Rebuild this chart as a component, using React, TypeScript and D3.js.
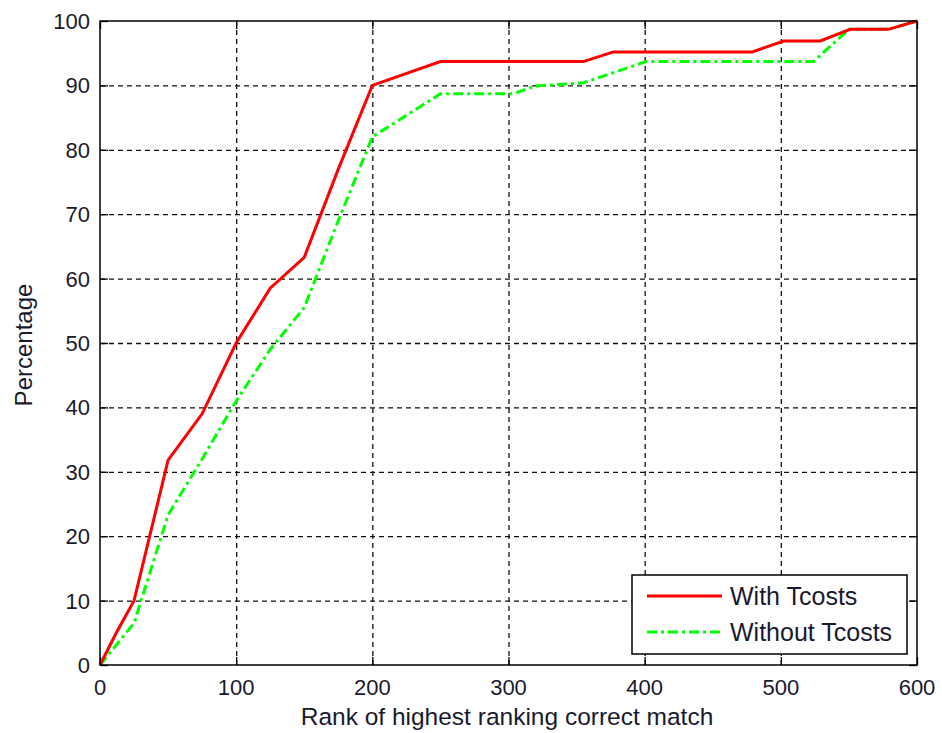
import { useEffect, useRef } from 'react';
import * as d3 from 'd3';

const rankWith = [0, 12, 25, 50, 75, 100, 125, 150, 175, 200, 250, 300, 355, 377, 479, 502, 529, 551, 579, 600];
const pctWith = [0, 5, 10, 31.8, 39, 50, 58.5, 63.3, 77, 90, 93.7, 93.7, 93.7, 95.2, 95.2, 96.9, 96.9, 98.7, 98.7, 100];

const rankWithout = [0, 25, 50, 75, 100, 125, 150, 175, 200, 250, 303, 320, 355, 401, 524, 550, 579, 600];
const pctWithout = [0, 6.5, 23.3, 32, 41, 49, 55.5, 69, 82, 88.7, 88.7, 89.9, 90.4, 93.7, 93.7, 98.7, 98.7, 100];

const xTicks = [0, 100, 200, 300, 400, 500, 600];
const yTicks = [0, 10, 20, 30, 40, 50, 60, 70, 80, 90, 100];
const seriesNames = ['With Tcosts', 'Without Tcosts'];

export default function App() {
  const ref = useRef<SVGSVGElement>(null);

  useEffect(() => {
    const svg = d3.select(ref.current);
    svg.selectAll('*').remove();

    const left = 100, right = 917, top = 21, bottom = 665;
    const font = '"Liberation Sans", Arial, sans-serif';
    const textColor = '#1a1a2e';

    const x = d3.scaleLinear().domain([0, 600]).range([left, right]);
    const y = d3.scaleLinear().domain([0, 100]).range([bottom, top]);

    svg.append('rect').attr('width', 942).attr('height', 733).attr('fill', '#fff');

    // grid
    const grid = svg.append('g').attr('stroke', '#111').attr('stroke-width', 1.3).attr('stroke-dasharray', '5,4');
    grid.selectAll('.gx')
      .data(xTicks.slice(1, -1))
      .enter()
      .append('line')
      .attr('x1', (d) => x(d) + 0.5)
      .attr('x2', (d) => x(d) + 0.5)
      .attr('y1', top)
      .attr('y2', bottom);
    grid.selectAll('.gy')
      .data(yTicks.slice(1, -1))
      .enter()
      .append('line')
      .attr('y1', (d) => y(d) + 0.5)
      .attr('y2', (d) => y(d) + 0.5)
      .attr('x1', left)
      .attr('x2', right);

    // inward ticks on all sides
    const tl = 8;
    const ticks = svg.append('g').attr('stroke', '#000').attr('stroke-width', 1.3);
    xTicks.forEach((t) => {
      const px = x(t) + 0.5;
      ticks.append('line').attr('x1', px).attr('x2', px).attr('y1', bottom).attr('y2', bottom - tl);
      ticks.append('line').attr('x1', px).attr('x2', px).attr('y1', top).attr('y2', top + tl);
    });
    yTicks.forEach((t) => {
      const py = y(t) + 0.5;
      ticks.append('line').attr('x1', left).attr('x2', left + tl).attr('y1', py).attr('y2', py);
      ticks.append('line').attr('x1', right).attr('x2', right - tl).attr('y1', py).attr('y2', py);
    });

    // lines
    const line = d3.line<[number, number]>().x((d) => x(d[0])).y((d) => y(d[1]));
    const without = rankWithout.map((r, i) => [r, pctWithout[i]] as [number, number]);
    const withT = rankWith.map((r, i) => [r, pctWith[i]] as [number, number]);

    svg.append('path')
      .attr('d', line(without))
      .attr('fill', 'none')
      .attr('stroke', '#00ff00')
      .attr('stroke-width', 3)
      .attr('stroke-dasharray', '10,4,3,4');
    svg.append('path')
      .attr('d', line(withT))
      .attr('fill', 'none')
      .attr('stroke', '#ff0000')
      .attr('stroke-width', 3);

    // axes box
    svg.append('rect')
      .attr('x', left).attr('y', top)
      .attr('width', right - left).attr('height', bottom - top)
      .attr('fill', 'none').attr('stroke', '#000').attr('stroke-width', 1.5);

    // tick labels
    svg.append('g')
      .selectAll('text')
      .data(xTicks)
      .enter()
      .append('text')
      .attr('x', (d) => x(d))
      .attr('y', 695)
      .attr('text-anchor', 'middle')
      .attr('font-family', font)
      .attr('font-size', 22)
      .attr('fill', textColor)
      .text((d) => d);
    svg.append('g')
      .selectAll('text')
      .data(yTicks)
      .enter()
      .append('text')
      .attr('x', 90)
      .attr('y', (d) => y(d) + 8)
      .attr('text-anchor', 'end')
      .attr('font-family', font)
      .attr('font-size', 22)
      .attr('fill', textColor)
      .text((d) => d);

    svg.append('text')
      .attr('x', 507)
      .attr('y', 725)
      .attr('text-anchor', 'middle')
      .attr('font-family', font)
      .attr('font-size', 24.5)
      .attr('fill', textColor)
      .text('Rank of highest ranking correct match');
    svg.append('text')
      .attr('transform', 'translate(32,345) rotate(-90)')
      .attr('text-anchor', 'middle')
      .attr('font-family', font)
      .attr('font-size', 24)
      .attr('fill', textColor)
      .text('Percentage');

    // legend
    const lg = svg.append('g');
    lg.append('rect')
      .attr('x', 632).attr('y', 575)
      .attr('width', 275).attr('height', 79)
      .attr('fill', '#fff').attr('stroke', '#000').attr('stroke-width', 1.5);
    const colors = ['#ff0000', '#00ff00'];
    const dashes = [null, '10,4,3,4'];
    seriesNames.forEach((name, i) => {
      const ly = 596 + i * 36;
      lg.append('line')
        .attr('x1', 647).attr('x2', 722)
        .attr('y1', ly).attr('y2', ly)
        .attr('stroke', colors[i])
        .attr('stroke-width', 3)
        .attr('stroke-dasharray', dashes[i]);
      lg.append('text')
        .attr('x', 730)
        .attr('y', ly + 9)
        .attr('font-family', font)
        .attr('font-size', 25)
        .attr('fill', textColor)
        .text(name);
    });
  }, []);

  return (
    <svg
      ref={ref}
      width={942}
      height={733}
      style={{ position: 'absolute', left: 0, top: 0, display: 'block' }}
    />
  );
}
